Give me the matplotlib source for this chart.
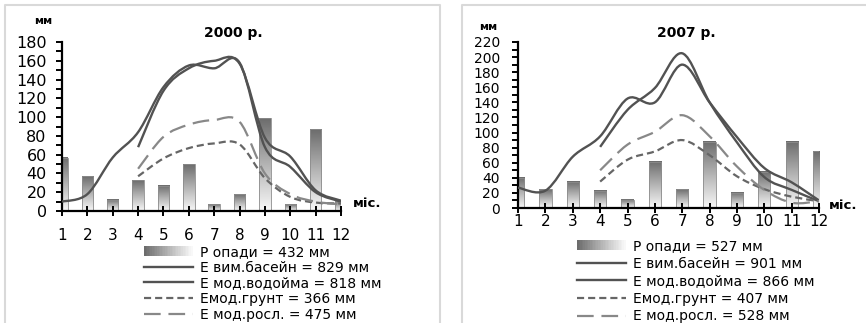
import numpy as np
import matplotlib
matplotlib.use("Agg")
import matplotlib.pyplot as plt
from matplotlib.path import Path
from matplotlib.patches import PathPatch, Rectangle
from matplotlib.lines import Line2D
from matplotlib.colors import LinearSegmentedColormap
from matplotlib.legend_handler import HandlerBase
from matplotlib.ticker import MultipleLocator

plt.rcParams['font.family'] = ['DejaVu Sans']

# --- data (mm per month) ---
months = list(range(1, 13))
model_months = list(range(4, 13))

precip_2000 = [57, 37, 12, 33, 27, 50, 7, 18, 99, 7, 87, 11]
pan_2000 = [10, 18, 57, 84, 132, 155, 152, 158, 68, 47, 20, 10]
pond_2000 = [68, 128, 152, 160, 157, 78, 58, 22, 11]
soil_2000 = [37, 56, 67, 72, 71, 35, 15, 9, 8]
plant_2000 = [45, 79, 92, 97, 95, 40, 18, 10, 7]

precip_2007 = [40, 25, 35, 23, 11, 61, 25, 88, 20, 48, 88, 75]
pan_2007 = [27, 23, 68, 95, 145, 140, 190, 140, 94, 53, 34, 10]
pond_2007 = [81, 130, 159, 205, 140, 87, 41, 24, 9]
soil_2007 = [35, 64, 75, 90, 70, 42, 25, 15, 9]
plant_2007 = [50, 84, 101, 123, 95, 55, 24, 7, 9]

labels_2000 = ['Р опади = 432 мм', 'E вим.басейн = 829 мм', 'E мод.водойма = 818 мм',
               'Eмод.грунт = 366 мм', 'E мод.росл. = 475 мм']
labels_2007 = ['Р опади = 527 мм', 'E вим.басейн = 901 мм', 'E мод.водойма = 866 мм',
               'Eмод.грунт = 407 мм', 'E мод.росл. = 528 мм']

bar_cmap = LinearSegmentedColormap.from_list('bar', ['#f8f8f8', '#b4b4b4', '#6c6c6c'])
SOLID = dict(color='#525252', lw=1.7)
SOIL = dict(color='#666666', lw=1.6, dashes=(3.2, 1.8))
PLANT = dict(color='#888888', lw=1.6, dashes=(7.5, 3.5))


def smooth_path(xs, ys):
    # Excel-like smoothed line: cubic Bezier through every point
    pts = np.column_stack([xs, ys]).astype(float)
    n = len(pts)
    verts, codes = [pts[0]], [Path.MOVETO]
    for i in range(n - 1):
        p0 = pts[max(i - 1, 0)]
        p1, p2 = pts[i], pts[i + 1]
        p3 = pts[min(i + 2, n - 1)]
        verts += [p1 + (p2 - p0) / 6, p2 - (p3 - p1) / 6, p2]
        codes += [Path.CURVE4] * 3
    return Path(verts, codes)


def add_curve(ax, xs, ys, style):
    ls = (0, style['dashes']) if 'dashes' in style else '-'
    ax.add_patch(PathPatch(smooth_path(xs, ys), fill=False, edgecolor=style['color'],
                           lw=style['lw'], linestyle=ls, capstyle='butt', zorder=3))


class GradientHandler(HandlerBase):
    def create_artists(self, legend, orig_handle, xdescent, ydescent, width, height,
                       fontsize, trans):
        n = 30
        arts = []
        for i in range(n):
            arts.append(Rectangle((-xdescent + i * width / n, -ydescent), width / n * 1.05,
                                  height, facecolor=bar_cmap(1 - i / (n - 1)),
                                  edgecolor='none', transform=trans))
        return arts


def draw_panel(ax, precip, pan, pond, soil, plant, ymax, ysize, xpad, ypad):
    bars = ax.bar(months, precip, width=0.45, color='none', edgecolor='#8c8c8c',
                  lw=0.6, zorder=2)
    grad = np.linspace(1, 0, 256).reshape(-1, 1)
    for b in bars:
        x0, y0 = b.get_xy()
        x1 = x0 + b.get_width()
        # keep the gradient inside the plotting area (edge bars are cut in half)
        ax.imshow(grad, extent=[max(x0, months[0]), min(x1, months[-1]), y0, y0 + b.get_height()],
                  aspect='auto', cmap=bar_cmap, vmin=0, vmax=1, origin='upper', zorder=1.5)
    add_curve(ax, months, pan, SOLID)
    add_curve(ax, model_months, pond, SOLID)
    add_curve(ax, model_months, soil, SOIL)
    add_curve(ax, model_months, plant, PLANT)

    ax.set_xlim(1, 12)
    ax.set_ylim(0, ymax)
    ax.set_xticks(months)
    ax.yaxis.set_major_locator(MultipleLocator(20))
    ax.yaxis.set_minor_locator(MultipleLocator(10))
    for s in ['top', 'right']:
        ax.spines[s].set_visible(False)
    for s in ['left', 'bottom']:
        ax.spines[s].set_linewidth(1.6)
    ax.tick_params(axis='x', direction='inout', length=7, width=1.4, labelsize=11, pad=xpad)
    ax.tick_params(axis='y', which='both', direction='out', length=4, width=1.4,
                   labelsize=ysize, pad=ypad)
    ax.set_facecolor('none')


fig = plt.figure(figsize=(8.66, 3.23), dpi=100)

ax1 = fig.add_axes([0.0716, 0.3467, 0.3222, 0.5232])
draw_panel(ax1, precip_2000, pan_2000, pond_2000, soil_2000, plant_2000, 180, 11.5, 9, 7)
ax2 = fig.add_axes([0.5982, 0.356, 0.3476, 0.514])
draw_panel(ax2, precip_2007, pan_2007, pond_2007, soil_2007, plant_2007, 220, 10, 1, 9)

# panel frames
frame = dict(color='#d9d9d9', lw=1.5, transform=fig.transFigure)
fig.add_artist(Line2D([5 / 866, 5 / 866, 440 / 866, 440 / 866], [0, 1 - 5 / 323, 1 - 5 / 323, 0], **frame))
fig.add_artist(Line2D([462 / 866, 462 / 866, 1], [0, 1 - 5 / 323, 1 - 5 / 323], **frame))

fig.text(0.269, 0.898, '2000 р.', ha='center', va='center', fontsize=10, fontweight='bold')
fig.text(0.792, 0.898, '2007 р.', ha='center', va='center', fontsize=10, fontweight='bold')
fig.text(0.0497, 0.935, 'мм', ha='center', va='center', fontsize=8, fontweight='bold')
fig.text(0.5635, 0.916, 'мм', ha='center', va='center', fontsize=8, fontweight='bold')
fig.text(0.4238, 0.3715, 'міс.', ha='center', va='center', fontsize=9.5, fontweight='bold')
fig.text(0.9734, 0.365, 'міс.', ha='center', va='center', fontsize=9.5, fontweight='bold')

bar_handle = Rectangle((0, 0), 1, 1)
line_handles = [Line2D([], [], **SOLID), Line2D([], [], **SOLID),
                Line2D([], [], color=SOIL['color'], lw=SOIL['lw'], dashes=SOIL['dashes']),
                Line2D([], [], color=PLANT['color'], lw=PLANT['lw'], dashes=PLANT['dashes'])]

for labels, x0, ytop, spacing in [(labels_2000, 144 / 866, 1 - 245 / 323, 0.12),
                                  (labels_2007, 577 / 866, 1 - 239 / 323, 0.26)]:
    fig.legend([bar_handle] + line_handles, labels, loc='upper left',
               bbox_to_anchor=(x0, ytop), borderaxespad=0, borderpad=0, frameon=False,
               fontsize=10, handlelength=3.5, handletextpad=0.55, labelspacing=spacing,
               handler_map={Rectangle: GradientHandler()})

fig.savefig('out.png', dpi=100)
